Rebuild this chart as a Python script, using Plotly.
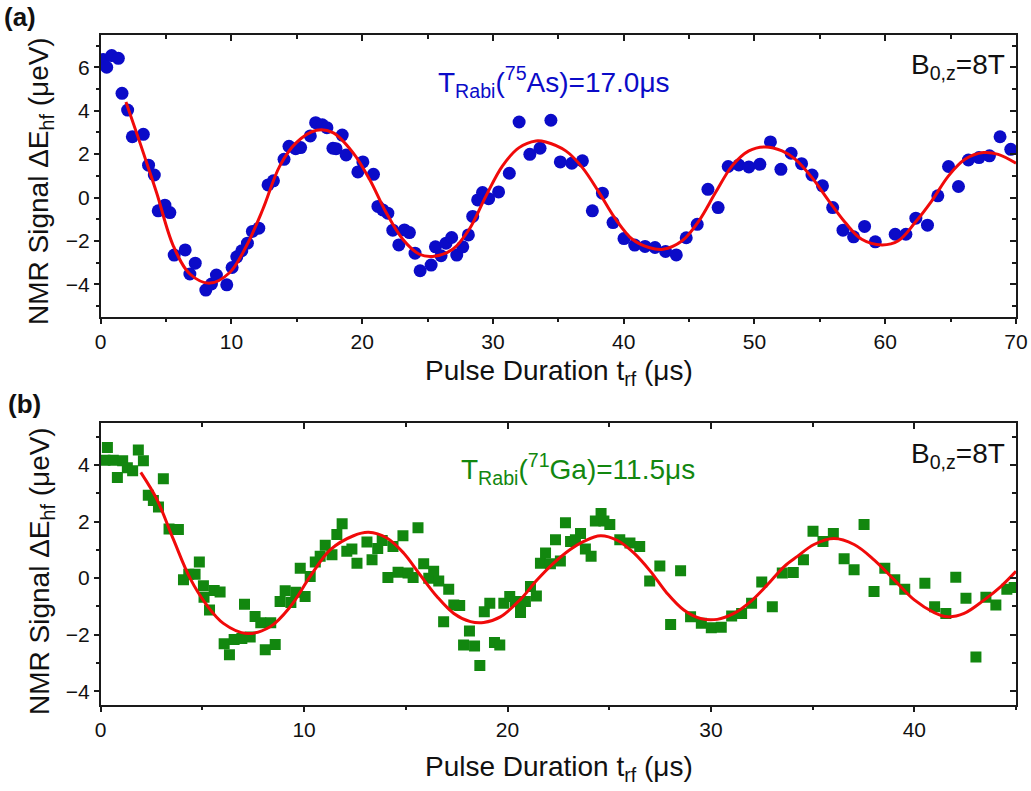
import plotly.graph_objects as go

W, H = 1031, 791
FONT = "Liberation Sans, Arial, sans-serif"
BLUE = "#0B0BC8"
GREEN = "#12870F"
RED = "#F00A0A"

# ---------------- Panel (a): 75As ----------------
a_t = [0.2, 0.46, 0.84, 1.35, 1.63, 2.06, 2.42, 3.26, 3.66, 4.10, 4.40, 4.91, 5.29,
       5.62, 6.46, 6.82, 7.23, 8.04, 8.47, 8.85, 9.64, 10.05, 10.41, 10.79, 11.22,
       11.60, 12.09, 12.80, 13.21, 14.02, 14.40, 14.91, 15.29, 16.03, 16.44, 16.95,
       17.30, 17.76, 18.00, 18.47, 18.77, 19.67, 20.05, 20.86, 21.20, 21.57, 21.96,
       22.34, 22.80, 23.23, 23.61, 24.04, 24.43, 25.27, 25.60, 26.03, 26.41, 26.84,
       27.23, 27.69, 28.12, 28.45, 28.83, 29.20, 29.67, 30.43, 31.25, 32.00, 32.82,
       33.60, 34.43, 35.15, 36.03, 36.84, 37.60, 38.37, 39.18, 40.02, 40.84, 41.63,
       42.39, 43.20, 44.02, 44.78, 45.62, 46.44, 47.22, 47.99, 48.80, 49.57, 50.41,
       51.22, 52.02, 52.80, 53.60, 54.40, 55.20, 55.98, 56.77, 57.58, 58.42, 59.24,
       60.76, 61.58, 62.34, 63.23, 64.02, 64.84, 65.60, 66.36, 67.17, 67.97, 68.78,
       69.60]
a_s = [6.36, 6.00, 6.54, 6.41, 4.80, 4.03, 2.80, 2.91, 1.49, 1.04, -0.61, -0.35, -0.69,
       -2.65, -2.41, -3.52, -3.02, -4.26, -3.98, -3.57, -4.02, -3.22, -2.73, -2.45, -2.10,
       -1.56, -1.41, 0.58, 0.77, 1.76, 2.36, 2.25, 2.30, 2.84, 3.45, 3.35,
       3.22, 2.27, 2.25, 2.88, 1.96, 1.18, 1.64, 1.07, -0.41, -0.57, -0.72,
       -1.50, -2.18, -1.49, -1.61, -2.56, -3.37, -3.11, -2.27, -2.68, -2.10, -1.84,
       -2.65, -2.27, -1.72, -0.87, -0.11, 0.23, -0.05, 0.26, 1.12, 3.48, 1.99,
       2.27, 3.56, 1.64, 1.58, 1.69, -0.61, 0.20, -1.15, -1.89, -2.19, -2.25,
       -2.30, -2.48, -2.64, -1.85, -1.23, 0.38, -0.46, 1.43, 1.50, 1.41, 1.53,
       2.56, 1.30, 2.04, 1.56, 1.04, 0.54, -0.46, -1.50, -1.81, -1.33, -2.04,
       -1.69, -1.69, -0.95, -1.27, 0.08, 1.43, 0.51, 1.73, 1.84, 1.92, 2.80,
       2.22]

# fitted curve
a_fit_t = [1.93, 3.0, 4.27, 5.55, 6.82, 8.35, 9.87, 11.15, 12.4, 13.7, 14.96, 16.5,
           17.76, 19.29, 20.56, 21.83, 23.1, 24.37, 25.39, 26.92, 28.19, 29.47, 30.73,
           32.0, 33.28, 34.04, 35.57, 36.84, 38.12, 39.39, 40.66, 41.93, 43.0, 44.47,
           45.75, 47.02, 48.29, 49.57, 50.84, 52.11, 53.13, 54.4, 55.68, 56.94, 58.2,
           59.74, 61.0, 62.28, 63.56, 64.84, 66.1, 67.5, 68.64, 70.0]
a_fit_s = [4.40, 2.53, 0.23, -2.22, -3.52, -3.94, -3.45, -2.22, -0.54, 1.46, 2.53, 3.10,
           2.99, 2.07, 0.84, -0.69, -1.92, -2.61, -2.71, -2.38, -1.46, 0.08, 1.46,
           2.30, 2.61, 2.56, 2.15, 1.38, 0.23, -1.00, -1.92, -2.30, -2.38, -1.99,
           -1.07, 0.23, 1.46, 2.15, 2.33, 2.15, 1.76, 0.92, -0.15, -1.15, -1.92,
           -2.18, -1.99, -1.15, -0.15, 1.00, 1.76, 2.07, 1.99, 1.58]

# ---------------- Panel (b): 71Ga ----------------
b_t = [0.21, 0.33, 0.62, 0.82, 1.08, 1.31, 1.57, 1.85, 2.10, 2.34, 2.59, 2.84, 3.08,
       3.36, 3.82, 4.07, 4.33, 4.64, 4.85, 5.05, 5.08, 5.35, 5.58, 5.87, 6.07, 6.33,
       6.56, 6.94, 7.07, 7.35, 7.59, 7.87, 8.09, 8.36, 8.58, 8.82, 9.07, 9.35, 9.59,
       9.81, 10.05, 10.30, 10.55, 10.79, 11.04, 11.37, 11.61, 11.87, 12.10, 12.35,
       12.60, 13.09, 13.34, 13.62, 13.84, 14.12, 14.37, 14.62, 14.86, 15.11, 15.36,
       15.60, 15.88, 16.13, 16.37, 16.62, 16.86, 17.11, 17.36, 17.65, 17.84, 18.13,
       18.38, 18.64, 18.86, 19.13, 19.36, 19.62, 19.82, 20.11, 20.39, 20.64, 20.88,
       21.13, 21.42, 21.62, 21.87, 22.11, 22.36, 22.60, 22.85, 23.10, 23.34, 23.59,
       23.83, 24.11, 24.32, 24.60, 24.74, 25.03, 25.52, 26.02, 26.50, 26.99, 27.49,
       28.02, 28.51, 29.00, 29.53, 30.02, 30.51, 31.02, 31.51, 32.00, 32.50, 33.02,
       33.51, 34.05, 34.55, 35.02, 35.51, 36.02, 36.55, 37.04, 37.53, 38.02, 38.55,
       39.04, 39.53, 40.52, 41.00, 41.55, 42.04, 42.54, 43.03, 43.52, 44.01, 44.55,
       44.91]
b_s = [4.17, 4.62, 4.17, 3.56, 4.15, 3.91, 3.80, 4.53, 4.15, 2.93, 2.75, 2.52, 3.52,
       1.74, 1.72, -0.06, 0.14, 0.14, 0.57, -0.27, -0.68, -1.13, -0.44, -0.49, -2.32, -2.71,
       -2.17, -2.14, -0.92, -2.08, -1.36, -1.58, -2.53, -1.58, -2.35, -0.83, -0.45, -0.86, -0.50,
       0.35, -0.65, 0.06, 0.57, 0.77, 1.16, 0.83, 1.54, 1.92, 0.95, 1.03,
       0.53, 1.28, 0.65, 1.05, 1.33, 0.02, 1.12, 0.21, 1.50, 0.18, 0.02,
       1.78, 0.51, 0.00, 0.24, -0.10, -1.54, -0.39, -0.95, -0.97, -2.37, -1.87,
       -2.40, -3.09, -1.19, -0.89, -2.28, -2.37, -0.89, -0.65, -0.83, -1.22, -0.83,
       -0.30, -0.63, 0.53, 0.89, 0.51, 1.36, 0.61, 1.96, 1.30, 1.36, 1.58,
       1.03, 0.77, 2.02, 2.29, 2.02, 1.90, 1.36, 1.24, 1.12, -0.10, 0.43,
       -1.64, 0.26, -1.37, -1.60, -1.76, -1.74, -1.34, -1.25, -0.89, -0.14, -1.01,
       0.18, 0.20, 0.65, 1.66, 1.30, 1.58, 0.69, 0.30, 1.90, -0.47, 0.35,
       -0.06, -0.39, -0.18, -1.01, -1.25, 0.03, -0.71, -2.79, -0.68, -0.95, -0.39,
       -0.33]

b_fit_t = [1.97, 2.76, 3.58, 4.39, 5.21, 6.03, 7.18, 8.33, 9.32, 10.30, 11.28, 12.43,
           13.17, 14.07, 14.89, 15.70, 16.53, 17.36, 18.18, 18.83, 19.65, 20.64, 21.46,
           22.27, 23.10, 23.75, 24.57, 25.39, 26.21, 27.03, 27.85, 28.67, 29.49, 30.31,
           31.13, 31.95, 32.77, 33.60, 34.25, 35.07, 36.05, 37.04, 38.02, 39.01, 40.00,
           40.98, 41.63, 42.45, 43.44, 44.25, 45.0]
b_fit_s = [3.74, 2.79, 1.36, 0.00, -0.95, -1.60, -1.96, -1.72, -1.01, 0.06, 1.00, 1.50,
           1.62, 1.42, 0.89, 0.12, -0.65, -1.25, -1.54, -1.57, -1.37, -0.75, -0.06,
           0.53, 1.02, 1.30, 1.50, 1.34, 0.89, 0.24, -0.54, -1.13, -1.43, -1.46,
           -1.25, -0.83, -0.24, 0.41, 0.77, 1.19, 1.40, 1.19, 0.65, -0.06, -0.77,
           -1.22, -1.37, -1.25, -0.77, -0.30, 0.24]

a_xrange, a_yrange = [0, 70], [-5.5, 7.5]
b_xrange, b_yrange = [0, 45], [-4.5, 5.5]

fig = go.Figure()
fig.add_trace(go.Scatter(x=a_t, y=a_s, mode="markers", xaxis="x", yaxis="y",
                         marker=dict(symbol="circle", size=13, color=BLUE, line=dict(width=0)),
                         showlegend=False, hoverinfo="skip"))
fig.add_trace(go.Scatter(x=a_fit_t, y=a_fit_s, mode="lines", xaxis="x", yaxis="y",
                         line=dict(color=RED, width=3, shape="spline", smoothing=1.0),
                         showlegend=False, hoverinfo="skip"))
fig.add_trace(go.Scatter(x=b_t, y=b_s, mode="markers", xaxis="x2", yaxis="y2",
                         marker=dict(symbol="square", size=11, color=GREEN, line=dict(width=0)),
                         showlegend=False, hoverinfo="skip"))
fig.add_trace(go.Scatter(x=b_fit_t, y=b_fit_s, mode="lines", xaxis="x2", yaxis="y2",
                         line=dict(color=RED, width=3, shape="spline", smoothing=1.0),
                         showlegend=False, hoverinfo="skip"))
# empty traces for mirrored (inside) tick axes
fig.add_trace(go.Scatter(x=[], y=[], xaxis="x3", yaxis="y3", showlegend=False))
fig.add_trace(go.Scatter(x=[], y=[], xaxis="x4", yaxis="y4", showlegend=False))

xdom = [100.7 / W, 1016 / W]
a_ydom = [1 - 317 / H, 1 - 34.7 / H]
b_ydom = [1 - 705.3 / H, 1 - 422.7 / H]

LC = "#1a1a1a"
tickfont = dict(family=FONT, size=21, color="#111")


def main_axis(rng, dtick, mdtick, dom, anchor):
    return dict(domain=dom, anchor=anchor, range=rng, dtick=dtick, tick0=0,
                ticks="outside", ticklen=5, tickwidth=1.5, tickcolor=LC,
                showline=True, linewidth=1.5, linecolor=LC, mirror=True,
                showgrid=False, zeroline=False, tickfont=tickfont, automargin=False,
                minor=dict(dtick=mdtick, tick0=0, ticks="outside", ticklen=3,
                           tickwidth=1.5, tickcolor=LC, showgrid=False))


def mirror_axis(rng, dtick, mdtick, overlay, side, anchor):
    return dict(overlaying=overlay, side=side, anchor=anchor, range=rng, dtick=dtick,
                tick0=0, ticks="inside", ticklen=6, tickwidth=1.5, tickcolor=LC,
                showline=False, showgrid=False, zeroline=False, showticklabels=False,
                automargin=False,
                minor=dict(dtick=mdtick, tick0=0, ticks="inside", ticklen=4,
                           tickwidth=1.5, tickcolor=LC, showgrid=False))


fig.update_layout(
    width=W, height=H,
    margin=dict(l=0, r=0, t=0, b=0, pad=0, autoexpand=False),
    paper_bgcolor="white", plot_bgcolor="white",
    font=dict(family=FONT, color="#111"),
    xaxis=main_axis(a_xrange, 10, 5, xdom, "y"),
    yaxis=main_axis(a_yrange, 2, 1, a_ydom, "x"),
    xaxis2=main_axis(b_xrange, 10, 5, xdom, "y2"),
    yaxis2=main_axis(b_yrange, 2, 1, b_ydom, "x2"),
    xaxis3=mirror_axis(a_xrange, 10, 5, "x", "top", "y"),
    yaxis3=mirror_axis(a_yrange, 2, 1, "y", "right", "x"),
    xaxis4=mirror_axis(b_xrange, 10, 5, "x2", "top", "y2"),
    yaxis4=mirror_axis(b_yrange, 2, 1, "y2", "right", "x2"),
)


def px(x):
    return x / W


def py(y):
    return 1 - y / H


anns = [
    dict(text="<b>(a)</b>", x=px(2), y=py(0), xanchor="left", yanchor="top",
         font=dict(size=26)),
    dict(text="<b>(b)</b>", x=px(6), y=py(387), xanchor="left", yanchor="top",
         font=dict(size=26)),
    dict(text="T<sub>Rabi</sub>(<sup>75</sup>As)=17.0μs", x=px(436), y=py(82),
         xanchor="left", yanchor="middle", font=dict(size=28, color=BLUE)),
    dict(text="T<sub>Rabi</sub>(<sup>71</sup>Ga)=11.5μs", x=px(459), y=py(469),
         xanchor="left", yanchor="middle", font=dict(size=28, color=GREEN)),
    dict(text="B<sub>0,z</sub>=8T", x=px(1007), y=py(67), xanchor="right",
         yanchor="middle", font=dict(size=28)),
    dict(text="B<sub>0,z</sub>=8T", x=px(1007), y=py(455), xanchor="right",
         yanchor="middle", font=dict(size=28)),
    dict(text="Pulse Duration t<sub>rf</sub> (μs)", x=px(559), y=py(372),
         xanchor="center", yanchor="middle", font=dict(size=28)),
    dict(text="Pulse Duration t<sub>rf</sub> (μs)", x=px(559), y=py(768),
         xanchor="center", yanchor="middle", font=dict(size=28)),
    dict(text="NMR Signal ΔE<sub>hf</sub> (μeV)", x=px(41), y=py(181), textangle=-90,
         xanchor="center", yanchor="middle", font=dict(size=28)),
    dict(text="NMR Signal ΔE<sub>hf</sub> (μeV)", x=px(41), y=py(571), textangle=-90,
         xanchor="center", yanchor="middle", font=dict(size=28)),
]
for a in anns:
    a.update(xref="paper", yref="paper", showarrow=False)
    a["font"] = dict(family=FONT, color=a["font"].get("color", "#111"), size=a["font"]["size"])
fig.update_layout(annotations=anns)

fig.write_html("out.html")
